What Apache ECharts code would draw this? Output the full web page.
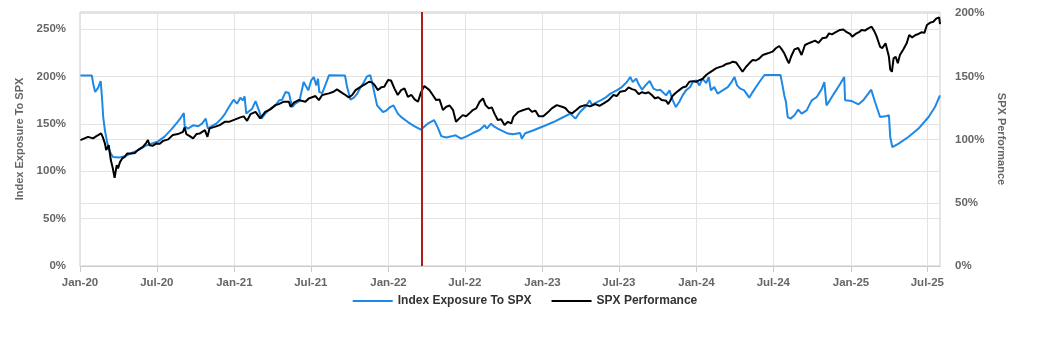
<!DOCTYPE html>
<html>
<head>
<meta charset="utf-8">
<script src="https://cdn.jsdelivr.net/npm/echarts@6/dist/echarts.min.js"></script>
<style>
  html, body { margin: 0; padding: 0; background: #ffffff; }
  #chart { width: 1050px; height: 350px; }
</style>
</head>
<body>
<div id="chart"></div>
<script>
// ---------- data ----------
const seriesNames = ['Index Exposure To SPX', 'SPX Performance'];

const xTickDates = ['2020-01-01','2020-07-01','2021-01-01','2021-07-01','2022-01-01','2022-07-01',
  '2023-01-01','2023-07-01','2024-01-01','2024-07-01','2025-01-01','2025-07-01'];
const xTickLabels = ['Jan-20','Jul-20','Jan-21','Jul-21','Jan-22','Jul-22',
  'Jan-23','Jul-23','Jan-24','Jul-24','Jan-25','Jul-25'];

const leftTicks = [0, 50, 100, 150, 200, 250];
const rightTicks = [0, 50, 100, 150, 200];

const markerDate = '2022-03-21';

const exposureDates = [
'2020-01-02','2020-01-29','2020-02-02','2020-02-06','2020-02-13','2020-02-19','2020-02-22','2020-02-25','2020-02-29','2020-03-06',
'2020-03-12','2020-03-19','2020-04-04','2020-04-16','2020-05-02','2020-05-17','2020-06-02','2020-06-18','2020-07-04','2020-07-20',
'2020-08-04','2020-08-20','2020-08-28','2020-09-03','2020-09-05','2020-09-13','2020-09-25','2020-10-07','2020-10-16','2020-10-25',
'2020-10-30','2020-11-07','2020-11-19','2020-12-01','2020-12-10','2020-12-19','2020-12-30','2021-01-07','2021-01-15','2021-01-21',
'2021-01-25','2021-01-29','2021-02-02','2021-02-12','2021-02-20','2021-02-23','2021-02-28','2021-03-06','2021-03-15','2021-03-27',
'2021-04-08','2021-04-17','2021-04-24','2021-05-02','2021-05-10','2021-05-14','2021-05-18','2021-05-25','2021-06-04','2021-06-14',
'2021-06-25','2021-07-02','2021-07-08','2021-07-14','2021-07-18','2021-07-21','2021-07-28','2021-08-05','2021-08-13','2021-09-20',
'2021-09-25','2021-10-03','2021-10-11','2021-10-19','2021-10-27','2021-11-04','2021-11-11','2021-11-19','2021-11-26','2021-12-05',
'2021-12-19','2021-12-27','2022-01-05','2022-01-13','2022-01-23','2022-02-02','2022-02-16','2022-03-04','2022-03-19','2022-04-04',
'2022-04-19','2022-04-28','2022-05-06','2022-05-18','2022-05-30','2022-06-09','2022-06-22','2022-07-04','2022-07-20','2022-08-05',
'2022-08-17','2022-08-22','2022-09-01','2022-09-09','2022-09-17','2022-09-29','2022-10-11','2022-10-23','2022-11-09','2022-11-13',
'2022-11-21','2022-12-11','2023-01-03','2023-01-27','2023-02-20','2023-03-08','2023-03-20','2023-03-31','2023-04-12','2023-04-23',
'2023-04-28','2023-05-10','2023-05-22','2023-05-30','2023-06-11','2023-06-26','2023-07-08','2023-07-20','2023-07-28','2023-08-03',
'2023-08-11','2023-08-17','2023-08-25','2023-09-02','2023-09-12','2023-09-21','2023-09-30','2023-10-07','2023-10-21','2023-10-29',
'2023-11-05','2023-11-13','2023-11-21','2023-11-29','2023-12-07','2023-12-17','2023-12-23','2023-12-31','2024-01-08','2024-01-15',
'2024-01-24','2024-01-30','2024-02-04','2024-02-12','2024-02-20','2024-03-03','2024-03-15','2024-03-24','2024-03-31','2024-04-06',
'2024-04-14','2024-04-23','2024-05-05','2024-05-13','2024-05-21','2024-05-29','2024-06-10','2024-07-18','2024-07-23','2024-07-27',
'2024-07-31','2024-08-04','2024-08-11','2024-08-20','2024-08-29','2024-09-06','2024-09-18','2024-09-30','2024-10-12','2024-10-24',
'2024-10-30','2024-11-04','2024-11-12','2024-11-24','2024-12-06','2024-12-16','2024-12-18','2025-01-03','2025-01-19','2025-01-30',
'2025-02-11','2025-02-18','2025-02-27','2025-03-11','2025-03-23','2025-04-01','2025-04-04','2025-04-09','2025-04-24','2025-05-17',
'2025-06-10','2025-07-04','2025-07-19','2025-07-31'
];
const exposureValues = [
201,201,190.6,183.6,188.2,195.2,178.3,157.2,143.2,129.1,
120.3,115,114.6,115.7,119.2,122,126.3,129.1,131.5,136.8,
143.9,152.3,157.2,161.4,147.4,144.9,148.4,147.4,150.2,155.5,
144.9,147.4,150.2,155.5,160.8,167.7,175.5,171.3,177.6,174.8,
179,160.8,160.4,166,174,175.5,164.2,155.5,160.8,166,
169.5,174.8,175.5,183.5,182.5,174.8,167.7,171.3,174,194.1,
185.3,195.9,199.4,190.6,197.7,183.5,182.5,191.7,201.2,201,
188.8,175.5,177.6,181.9,188.8,194.1,200.1,201.2,188,169.5,
162.5,164,167.7,169.5,160.8,156.5,151.9,147.4,143.9,150.2,
154,146,137,135.5,136.8,137.9,134.4,136.5,140.3,143.5,
148.4,145,150.2,147,145,142.4,139.7,138.9,140.3,134.4,
140,143.2,147.4,151.9,157.2,160.8,155.5,162.5,167.7,174.8,
170,173,175.5,177.6,181.9,185.3,188.8,194.1,199.4,194,
197.7,191.7,186,190.6,195.2,187.1,185.3,186,180,185.3,
175.5,167.7,173,180,185.3,188.8,194.1,195.9,190.6,197.7,
193,199.4,185.3,188.8,181.9,185.3,188.8,194.1,199.4,190.6,
187.1,185.3,177.6,183.5,188.8,194.1,201.5,201.5,190,180,
173,157.2,155.5,159,165,160.8,164.2,174.8,178.3,187.1,
194.1,169.5,174.8,183.5,191.7,199.4,174.8,174,170.6,174.8,
181.9,186,173,157.2,157.9,159,136.1,125.5,129.1,136.1,
145,157.2,167.7,180
];

const spxDates = [
'2020-01-02','2020-01-20','2020-02-01','2020-02-09','2020-02-20','2020-02-24','2020-02-29','2020-03-03','2020-03-09','2020-03-14',
'2020-03-18','2020-03-23','2020-03-28','2020-03-31','2020-04-05','2020-04-10','2020-04-16','2020-04-22','2020-05-02','2020-05-10',
'2020-05-17','2020-05-29','2020-06-06','2020-06-10','2020-06-14','2020-06-22','2020-06-30','2020-07-08','2020-07-16','2020-07-28',
'2020-08-08','2020-08-20','2020-09-01','2020-09-05','2020-09-09','2020-09-17','2020-09-25','2020-10-03','2020-10-11','2020-10-23',
'2020-10-29','2020-11-03','2020-11-15','2020-11-27','2020-12-09','2020-12-19','2021-01-03','2021-01-15','2021-01-23','2021-01-31',
'2021-02-08','2021-02-20','2021-03-03','2021-03-15','2021-03-27','2021-04-08','2021-04-16','2021-04-28','2021-05-10','2021-05-14',
'2021-05-22','2021-06-02','2021-06-18','2021-06-26','2021-07-12','2021-07-20','2021-07-28','2021-08-13','2021-08-24','2021-09-01',
'2021-09-13','2021-09-21','2021-09-29','2021-10-07','2021-10-15','2021-10-27','2021-11-07','2021-11-16','2021-11-23','2021-11-29',
'2021-12-07','2021-12-15','2021-12-22','2021-12-31','2022-01-07','2022-01-15','2022-01-23','2022-01-31','2022-02-08','2022-02-16',
'2022-02-24','2022-03-04','2022-03-12','2022-03-15','2022-03-19','2022-03-27','2022-04-08','2022-04-16','2022-04-24','2022-05-02',
'2022-05-10','2022-05-18','2022-05-26','2022-06-03','2022-06-10','2022-06-18','2022-06-26','2022-07-04','2022-07-12','2022-07-20',
'2022-07-28','2022-08-05','2022-08-13','2022-08-19','2022-08-27','2022-09-03','2022-09-09','2022-09-17','2022-09-25','2022-10-03',
'2022-10-11','2022-10-19','2022-10-24','2022-11-05','2022-11-17','2022-11-29','2022-12-07','2022-12-15','2022-12-23','2023-01-03',
'2023-01-15','2023-01-23','2023-02-04','2023-02-16','2023-02-24','2023-03-04','2023-03-12','2023-03-22','2023-03-31','2023-04-12',
'2023-04-24','2023-05-06','2023-05-16','2023-05-26','2023-06-07','2023-06-18','2023-06-26','2023-07-04','2023-07-16','2023-07-24',
'2023-08-01','2023-08-09','2023-08-17','2023-08-25','2023-09-02','2023-09-09','2023-09-17','2023-09-25','2023-10-02','2023-10-11',
'2023-10-21','2023-10-26','2023-10-31','2023-11-05','2023-11-13','2023-11-21','2023-11-29','2023-12-07','2023-12-15','2023-12-23',
'2023-12-31','2024-01-08','2024-01-15','2024-01-24','2024-01-31','2024-02-08','2024-02-16','2024-02-24','2024-03-03','2024-03-11',
'2024-03-19','2024-03-27','2024-04-04','2024-04-11','2024-04-19','2024-04-27','2024-05-05','2024-05-13','2024-05-21','2024-05-29',
'2024-06-06','2024-06-18','2024-06-29','2024-07-07','2024-07-15','2024-07-21','2024-07-27','2024-08-03','2024-08-07','2024-08-12',
'2024-08-20','2024-08-29','2024-09-06','2024-09-14','2024-09-26','2024-10-08','2024-10-16','2024-10-25','2024-11-04','2024-11-10',
'2024-11-17','2024-11-24','2024-12-06','2024-12-14','2024-12-22','2024-12-30','2025-01-04','2025-01-12','2025-01-20','2025-01-26',
'2025-02-03','2025-02-11','2025-02-19','2025-02-25','2025-03-03','2025-03-11','2025-03-16','2025-03-24','2025-03-29','2025-04-01',
'2025-04-04','2025-04-08','2025-04-12','2025-04-17','2025-04-22','2025-04-27','2025-05-05','2025-05-13','2025-05-19','2025-05-26',
'2025-06-03','2025-06-10','2025-06-18','2025-06-24','2025-06-30','2025-07-08','2025-07-15','2025-07-23','2025-07-29','2025-07-31'
];
const spxValues = [
99.6,102.2,101,102.8,104.9,102,97,91.7,95.6,83.8,
78.4,69.7,79.8,77.2,82.4,85.1,86.4,89.1,89.1,89.5,
91.7,94.3,97.5,99.6,95.6,95.2,97,96.8,99,100.2,
103.6,104.4,106.2,109.7,104.4,102.8,101,104.4,104.9,107.5,
102.2,108.9,110.1,111.5,114.1,114.1,116,117.6,118.4,114.9,
120.2,122,116.8,122,123.9,127.3,128.1,130,130,126,
129.2,131.3,130,132.6,134.5,131.3,135.3,136.6,137.9,139.8,
137,135.3,133.4,135.3,139.2,141.8,144,145.8,145.3,143.2,
139.2,141.5,141.8,147.1,146.8,140.6,135.3,139.2,140.6,133.9,
135.5,131.8,130,128.7,137.4,142.4,139.2,135.3,131.3,131.8,
123.4,126,127,123.4,114.1,116.8,119.4,118.5,120.8,123.4,
124.7,130,132.6,127.3,124.7,125.5,120.8,115.5,116.2,111.5,
114.1,112.8,118,122,123.4,124.7,122,123,118.6,118.5,
122,124.7,127.3,126,125,122,120.8,123.4,126,127.3,
126.3,128.1,126.8,128.7,131.3,135.3,134.5,137.9,138.6,141.3,
140,139.2,136,137.5,136.6,137.5,135.3,132.6,133.5,131.3,
130.8,128.1,131,134.5,137.1,139.2,141.3,142,145.8,146.3,
145.8,147.1,148,151.1,152.9,154.6,156.4,157.4,158.2,159.8,
160.4,161.7,161,157.7,153.7,157.5,160.4,163,162.6,164.3,
167,168.3,169.6,172.3,174.1,171.4,168.3,163,160.4,165.6,
171.4,172.5,167,174.9,176.7,178.3,176.5,180.2,180.9,184.1,
183.3,184.7,186.8,187.1,185,183.6,181.5,183.6,185,186.8,
186.3,188.1,189.4,186,181.5,173.5,172.4,176.2,169.6,165.6,
155.6,153.7,164.3,165.6,160.4,167,171.4,176.2,182.8,180.9,
182.8,183.6,185,184.5,190.7,192.6,193.3,196,196.8,191.5
];

// ---------- chart ----------
const parse = s => echarts.time.parse(s).getTime();
const tickTs = xTickDates.map(parse);
const tickLabelByTs = {};
tickTs.forEach((t, i) => { tickLabelByTs[t] = xTickLabels[i]; });

const exposureData = exposureDates.map((d, i) => [parse(d), exposureValues[i]]);
const spxData = spxDates.map((d, i) => [parse(d), spxValues[i]]);

const chart = echarts.init(document.getElementById('chart'), null, { renderer: 'canvas' });
const FONT = 'Liberation Sans, Arial, Helvetica, sans-serif';
const GRID_COLOR = '#e3e3e3';

chart.setOption({
  animation: false,
  backgroundColor: '#ffffff',
  grid: { left: 80, right: 110, top: 12, bottom: 84, show: true, borderColor: '#cccccc', borderWidth: 1, backgroundColor: 'transparent' },
  legend: {
    data: seriesNames,
    top: 290,
    left: 'center',
    icon: 'rect',
    itemWidth: 40,
    itemHeight: 2,
    itemGap: 20,
    textStyle: { fontFamily: FONT, fontSize: 12, fontWeight: 'bold', color: '#333333' }
  },
  xAxis: {
    type: 'value',
    min: tickTs[0],
    max: parse(spxDates[spxDates.length - 1]),
    axisLine: { show: true, lineStyle: { color: '#cccccc' } },
    axisTick: { show: true, length: 6, customValues: tickTs, lineStyle: { color: '#cccccc' } },
    axisLabel: {
      customValues: tickTs,
      margin: 11,
      fontFamily: FONT, fontSize: 11.5, fontWeight: 'bold', color: '#666666',
      formatter: v => tickLabelByTs[v] || ''
    },
    splitLine: { show: true, lineStyle: { color: GRID_COLOR } }
  },
  yAxis: [
    {
      type: 'value',
      position: 'left',
      min: 0, max: 268, interval: 50,
      name: 'Index Exposure To SPX',
      nameLocation: 'middle',
      nameRotate: 90,
      nameGap: 50,
      nameTextStyle: { fontFamily: FONT, fontSize: 11, fontWeight: 'bold', color: '#666666' },
      axisLine: { show: false },
      axisTick: { show: false },
      axisLabel: {
        showMaxLabel: false, margin: 14,
        fontFamily: FONT, fontSize: 11.5, fontWeight: 'bold', color: '#666666',
        formatter: v => leftTicks.indexOf(v) >= 0 ? v + '%' : ''
      },
      splitLine: { show: true, lineStyle: { color: GRID_COLOR } }
    },
    {
      type: 'value',
      position: 'right',
      min: 0, max: 201, interval: 50,
      name: 'SPX Performance',
      nameLocation: 'middle',
      nameRotate: -90,
      nameGap: 51,
      nameTextStyle: { fontFamily: FONT, fontSize: 11, fontWeight: 'bold', color: '#666666' },
      axisLine: { show: false },
      axisTick: { show: false },
      axisLabel: {
        showMaxLabel: false, margin: 15,
        fontFamily: FONT, fontSize: 11.5, fontWeight: 'bold', color: '#666666',
        formatter: v => rightTicks.indexOf(v) >= 0 ? v + '%' : ''
      },
      splitLine: { show: true, lineStyle: { color: GRID_COLOR } }
    }
  ],
  series: [
    {
      name: seriesNames[0],
      type: 'line',
      yAxisIndex: 0,
      data: exposureData,
      showSymbol: false,
      symbol: 'none',
      color: '#1e88e5',
      lineStyle: { color: '#1e88e5', width: 2 },
      z: 2
    },
    {
      name: seriesNames[1],
      type: 'line',
      yAxisIndex: 1,
      data: spxData,
      showSymbol: false,
      symbol: 'none',
      color: '#000000',
      lineStyle: { color: '#000000', width: 2 },
      z: 3,
      markLine: {
        silent: true,
        symbol: ['none', 'none'],
        label: { show: false },
        lineStyle: { color: '#ab1f1f', width: 2, type: 'solid' },
        data: [{ xAxis: parse(markerDate) }],
        z: 5
      }
    }
  ]
});
</script>
</body>
</html>
